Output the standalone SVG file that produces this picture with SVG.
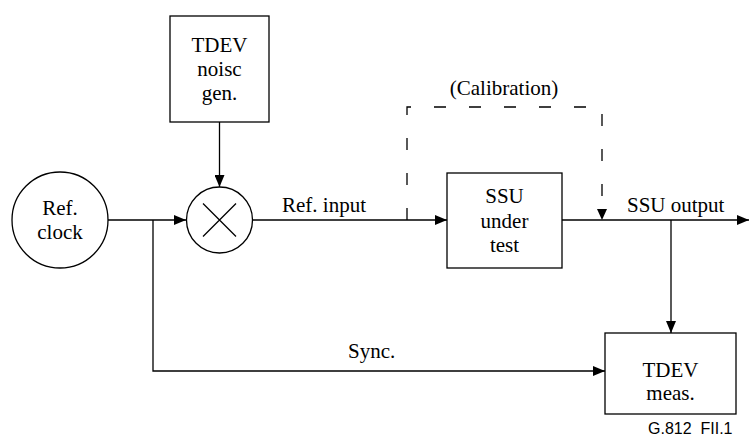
<svg xmlns="http://www.w3.org/2000/svg" width="749" height="438" viewBox="0 0 749 438">
<defs>
<style>
.s{fill:none;stroke:#000;stroke-width:1.3}
.n{fill:#fff;stroke:#000;stroke-width:1.3}
.d{fill:none;stroke:#000;stroke-width:1.3;stroke-dasharray:12 23}
</style>
<marker id="a" viewBox="0 0 12 10" refX="12" refY="5" markerWidth="12" markerHeight="10" markerUnits="userSpaceOnUse" orient="auto">
<path d="M0,0 L12,5 L0,10 Z" fill="#000"/>
</marker>
</defs>
<g font-family="Liberation Serif, Times New Roman, serif" font-size="21" fill="#000">
<g id="connectors">
<path class="s" d="M108,220 H186" marker-end="url(#a)"/>
<path class="s" d="M219.5,122 V187" marker-end="url(#a)"/>
<path class="s" d="M153,220 V371 H605" marker-end="url(#a)"/>
<path class="s" d="M252.5,220 H447" marker-end="url(#a)"/>
<path class="s" d="M562,220 H749" marker-end="url(#a)"/>
<path class="s" d="M671,220 V333" marker-end="url(#a)"/>
<path class="d" d="M407,220 V107 H602 V210"/>
<path d="M597,209 L607,209 L602,220 Z" fill="#000"/>
<text x="282" y="212">Ref. input</text>
<text x="504" y="95" text-anchor="middle">(Calibration)</text>
<text x="627" y="212">SSU output</text>
<text x="348" y="358">Sync.</text>
</g>
<g id="refclock" text-anchor="middle">
<circle class="n" cx="60" cy="220" r="48"/>
<text x="60" y="215">Ref.</text>
<text x="60" y="239">clock</text>
</g>
<g id="noisegen" text-anchor="middle">
<rect class="n" x="170" y="16" width="99" height="106"/>
<text x="219.5" y="52">TDEV</text>
<text x="219.5" y="76">noisc</text>
<text x="219.5" y="100">gen.</text>
</g>
<g id="mixer">
<circle class="n" cx="219.5" cy="220" r="33"/>
<path class="s" d="M203,203.5 L236,236.5 M236,203.5 L203,236.5"/>
</g>
<g id="ssu" text-anchor="middle">
<rect class="n" x="447" y="173" width="115" height="95"/>
<text x="504.5" y="203">SSU</text>
<text x="504.5" y="228">under</text>
<text x="504.5" y="252">test</text>
</g>
<g id="meas" text-anchor="middle">
<rect class="n" x="605" y="333" width="131" height="81"/>
<text x="670.5" y="377">TDEV</text>
<text x="670.5" y="400">meas.</text>
</g>
</g>
<text font-family="Liberation Sans, Arial, sans-serif" font-size="16" x="648" y="434" xml:space="preserve">G.812  FII.1</text>
</svg>
